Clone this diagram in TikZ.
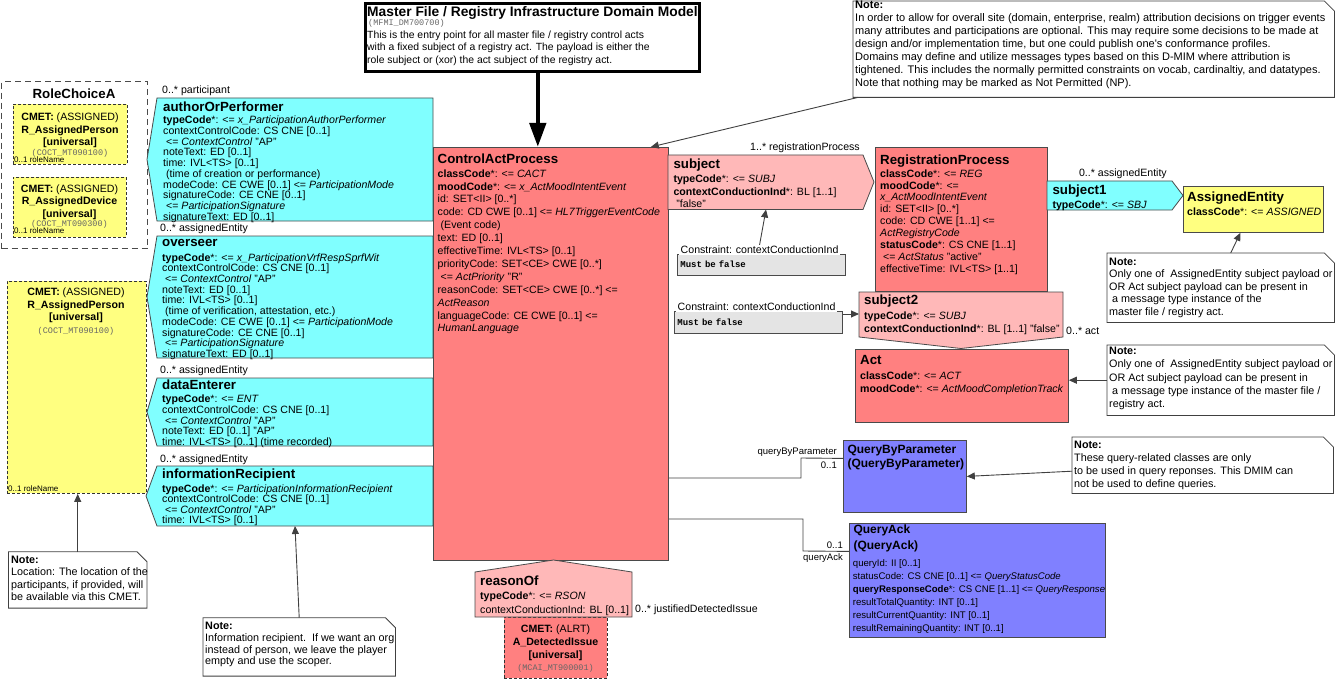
\documentclass[tikz,border=0pt]{standalone}
\usepackage{fontspec}
\setmainfont{Liberation Sans}
\setmonofont{Liberation Mono}
\usetikzlibrary{arrows.meta,positioning}
\definecolor{actred}{HTML}{FF8080}
\definecolor{actrel}{HTML}{FFB8B8}
\definecolor{partcyan}{HTML}{80FFFF}
\definecolor{roleyel}{HTML}{FFFF80}
\definecolor{infblue}{HTML}{8080FF}
\definecolor{cngray}{HTML}{E4E4E4}
\definecolor{edge}{HTML}{4A4A4A}
\newcommand{\fsz}[2]{\fontsize{#1}{#2}\selectfont}
\newcommand{\cmetid}[1]{{\ttfamily\fontsize{8.5}{9}\selectfont\color{black!60}#1}}
\newcommand{\notefold}[1]{%
  \draw[notebox] (#1.north west) -- ([xshift=-10pt]#1.north east) -- ([yshift=-10pt]#1.north east)
    -- (#1.south east) -- (#1.south west) -- cycle;}
\begin{document}
\begin{tikzpicture}[x=1pt,y=-1pt,
  every node/.style={inner sep=0pt},
  cls/.style={draw=edge,line width=0.8pt,anchor=north west},
  clsname/.style={anchor=north west,align=left,font=\fsz{13.3}{15}\bfseries},
  attr/.style={anchor=north west,align=left,font=\fsz{10.6}{12.9}},
  lbl/.style={font=\fsz{10.6}{12}},
  qlbl/.style={font=\fsz{9.5}{11}},
  partbox/.style={draw=edge,line width=0.8pt,fill=partcyan},
  relbox/.style={draw=edge,line width=0.8pt,fill=actrel},
  cmet/.style={draw=black!80,line width=0.9pt,dash pattern=on 3pt off 2pt,anchor=north west},
  cmettxt/.style={anchor=north,align=center,font=\fsz{10.6}{12.5}},
  rolename/.style={anchor=west,font=\fsz{8}{9}},
  notebox/.style={draw=black!75,line width=0.8pt,fill=white},
  notearea/.style={anchor=north west},
  notetxt/.style={anchor=north west,align=left,font=\fsz{10.8}{12.5}},
  cnbody/.style={draw=edge,line width=0.8pt,fill=cngray,anchor=north west,text width=162pt,
    inner xsep=3pt,align=left,font=\ttfamily\bfseries\fsz{9}{10}},
  cnhead/.style={anchor=west,fill=white,inner xsep=1.5pt,inner ysep=1pt,font=\fsz{10.6}{12}},
  conn/.style={draw=black!75,line width=0.9pt},
  arr/.style={conn,-{Triangle[length=8pt,width=7pt]}},
]
\useasboundingbox (0,0) rectangle (1335,679);

% master file entry point
\node[draw,line width=2.6pt,anchor=north west,minimum width=334,minimum height=68] (mf) at (364,2) {};
\node[anchor=north west,font=\fsz{13.8}{15}\bfseries] (mft) at (367,6.5) {Master File / Registry Infrastructure Domain Model};
\node[anchor=north west] (mfid) at (368,19.5) {\cmetid{(MFMI\_DM700700)}};
\node[attr,font=\fsz{10.4}{12.5}] (mfb) at (367,30.3) {This is the entry point for all master file / registry control acts\\
with a fixed subject of a registry act. The payload is either the\\
role subject or (xor) the act subject of the registry act.};

% top note
\node[notearea,minimum width=481,minimum height=96] (ntop) at (853,1) {};
\notefold{ntop}
\node[notetxt,font=\fsz{11}{13}] (ntopt) at (855,1.2) {\textbf{Note:}\\
In order to allow for overall site (domain, enterprise, realm) attribution decisions on trigger events\\
many attributes and participations are optional. This may require some decisions to be made at\\
design and/or implementation time, but one could publish one\textquotesingle s conformance profiles.\\
Domains may define and utilize messages types based on this D-MIM where attribution is\\
tightened. This includes the normally permitted constraints on vocab, cardinaltiy, and datatypes.\\
Note that nothing may be marked as Not Permitted (NP).};

% role choice
\node[draw=edge,line width=1.2pt,dash pattern=on 6pt off 4pt,anchor=north west,minimum width=146,minimum height=167] (rca) at (1,81) {};
\node[clsname,anchor=north] (rcan) at (74,88.3) {RoleChoiceA};
\node[cmet,fill=roleyel,minimum width=114,minimum height=60] (ap1) at (13,104) {};
\node[cmettxt] (ap1t) at (70,112.7) {\textbf{CMET:} (ASSIGNED)\\\textbf{R\_AssignedPerson}\\\textbf{[universal]}};
\node[anchor=north] (ap1id) at (70,149.5) {\cmetid{(COCT\_MT090100)}};
\node[rolename] (ap1r) at (14,159.8) {0..1 roleName};
\node[cmet,fill=roleyel,minimum width=113,minimum height=60] (ap2) at (13,177) {};
\node[cmettxt] (ap2t) at (69.5,184.3) {\textbf{CMET:} (ASSIGNED)\\\textbf{R\_AssignedDevice}\\\textbf{[universal]}};
\node[anchor=north] (ap2id) at (69.5,220.5) {\cmetid{(COCT\_MT090300)}};
\node[rolename] (ap2r) at (14,231) {0..1 roleName};

\node[cmet,fill=roleyel,minimum width=139,minimum height=212] (ap3) at (7,281) {};
\node[cmettxt] (ap3t) at (76,288) {\textbf{CMET:} (ASSIGNED)\\\textbf{R\_AssignedPerson}\\\textbf{[universal]}};
\node[anchor=north] (ap3id) at (76,327.5) {\cmetid{(COCT\_MT090100)}};
\node[rolename] (ap3r) at (8,488.3) {0..1 roleName};

% participations
\draw[partbox] (157,98) -- (433,98) -- (433,221) -- (157,221) -- (147,159.5) -- cycle;
\node[lbl,anchor=west] (aopl) at (162,90.7) {0..* participant};
\node[clsname] (aopn) at (163,102) {authorOrPerformer};
\node[attr,font=\fsz{10.6}{10.7}] (aopa) at (163,116) {\textbf{typeCode}*: <= \textit{x\_ParticipationAuthorPerformer}\\
contextControlCode: CS CNE [0..1]\\
\ <= \textit{ContextControl} "AP"\\
noteText: ED [0..1]\\
time: IVL<TS> [0..1]\\
\ (time of creation or performance)\\
modeCode: CE CWE [0..1] <= \textit{ParticipationMode}\\
signatureCode: CE CNE [0..1]\\
\ <= \textit{ParticipationSignature}\\
signatureText: ED [0..1]};

\draw[partbox] (157,236) -- (433,236) -- (433,358) -- (157,358) -- (147,297) -- cycle;
\node[lbl,anchor=west] (ovsl) at (160,229) {0..* assignedEntity};
\node[clsname] (ovsn) at (162,238.7) {overseer};
\node[attr,font=\fsz{10.6}{10.7}] (ovsa) at (162,253.3) {\textbf{typeCode}*: <= \textit{x\_ParticipationVrfRespSprfWit}\\
contextControlCode: CS CNE [0..1]\\
\ <= \textit{ContextControl} "AP"\\
noteText: ED [0..1]\\
time: IVL<TS> [0..1]\\
\ (time of verification, attestation, etc.)\\
modeCode: CE CWE [0..1] <= \textit{ParticipationMode}\\
signatureCode: CE CNE [0..1]\\
\ <= \textit{ParticipationSignature}\\
signatureText: ED [0..1]};

\draw[partbox] (157,378) -- (433,378) -- (433,446) -- (157,446) -- (147,412) -- cycle;
\node[lbl,anchor=west] (denl) at (160,371) {0..* assignedEntity};
\node[clsname] (denn) at (162,379.7) {dataEnterer};
\node[attr,font=\fsz{10.6}{10.75}] (dena) at (162,394.7) {\textbf{typeCode}*: <= \textit{ENT}\\
contextControlCode: CS CNE [0..1]\\
\ <= \textit{ContextControl} "AP"\\
noteText: ED [0..1] "AP"\\
time: IVL<TS> [0..1] (time recorded)};

\draw[partbox] (157,466) -- (433,466) -- (433,526) -- (157,526) -- (146,496) -- cycle;
\coordinate (inrs) at (295,526);
\node[lbl,anchor=west] (inrl) at (160,460) {0..* assignedEntity};
\node[clsname] (inrn) at (162,468.3) {informationRecipient};
\node[attr,font=\fsz{10.6}{10.5}] (inra) at (162,484.3) {\textbf{typeCode}*: <= \textit{ParticipationInformationRecipient}\\
contextControlCode: CS CNE [0..1]\\
\ <= \textit{ContextControl} "AP"\\
time: IVL<TS> [0..1]};

% control act
\node[cls,fill=actred,minimum width=235,minimum height=413] (cap) at (433,147) {};
\node[clsname] (capn) at (437.5,153.3) {ControlActProcess};
\node[attr] (capa) at (437.5,169.3) {\textbf{classCode}*: <= \textit{CACT}\\
\textbf{moodCode}*: <= \textit{x\_ActMoodIntentEvent}\\
id: SET<II> [0..*]\\
code: CD CWE [0..1] <= \textit{HL7TriggerEventCode}\\
\ (Event code)\\
text: ED [0..1]\\
effectiveTime: IVL<TS> [0..1]\\
priorityCode: SET<CE> CWE [0..*]\\
\ <= \textit{ActPriority} "R"\\
reasonCode: SET<CE> CWE [0..*] <=\\
\textit{ActReason}\\
languageCode: CE CWE [0..1] <=\\
\textit{HumanLanguage}};

\draw[line width=4.5pt,-{Triangle[length=24pt,width=16pt]}] ([xshift=5.5pt]mf.south) -- ([xshift=5.5pt]mf.south |- cap.north);
\draw[arr] ([xshift=5pt]ntop.south west) -- ([xshift=-18pt]cap.north east);

% subject / registration
\draw[relbox] (668,155) -- (863,155) -- (874,182) -- (863,209.5) -- (668,209.5) -- cycle;
\coordinate (sbjs) at (766,209.5);
\node[lbl,anchor=east] (sbjl) at (860,148) {1..* registrationProcess};
\node[clsname] (sbjn) at (673.3,158.3) {subject};
\node[attr,font=\fsz{10.6}{12.3}] (sbja) at (673.3,175) {\textbf{typeCode}*: <= \textit{SUBJ}\\
\textbf{contextConductionInd}*: BL [1..1]\\
\ "false"};

\node[cnbody,minimum height=21] (cn1) at (677,253.5) {Must be false};
\node[cnhead] (cn1h) at (679,250) {Constraint: contextConductionInd};
\draw[arr] (cn1h.north) -- (sbjs);

\node[cls,fill=actred,minimum width=172,minimum height=143] (rgp) at (875,147.5) {};
\node[clsname] (rgpn) at (880,155) {RegistrationProcess};
\node[attr,font=\fsz{10.6}{11.9}] (rgpa) at (880,169.3) {\textbf{classCode}*: <= \textit{REG}\\
\textbf{moodCode}*: <=\\
\textit{x\_ActMoodIntentEvent}\\
id: SET<II> [0..*]\\
code: CD CWE [1..1] <=\\
\textit{ActRegistryCode}\\
\textbf{statusCode}*: CS CNE [1..1]\\
\ <= \textit{ActStatus} "active"\\
effectiveTime: IVL<TS> [1..1]};

\draw[partbox] (1047,181) -- (1172,181) -- (1183,195.5) -- (1172,210) -- (1047,210) -- cycle;
\node[lbl,anchor=east] (sb1l) at (1167,173.3) {0..* assignedEntity};
\node[clsname] (sb1n) at (1052.3,185) {subject1};
\node[attr] (sb1a) at (1052.3,201) {\textbf{typeCode}*: <= \textit{SBJ}};

\node[cls,fill=roleyel,minimum width=140,minimum height=46] (aen) at (1183,186) {};
\node[clsname] (aenn) at (1187,192) {AssignedEntity};
\node[attr] (aena) at (1187,208) {\textbf{classCode}*: <= \textit{ASSIGNED}};

\node[notearea,minimum width=227,minimum height=69] (nae) at (1107,253) {};
\notefold{nae}
\node[notetxt] (naet) at (1109,257.5) {\textbf{Note:}\\
Only one of\ \ AssignedEntity subject payload or\\
OR Act subject payload can be present in\\
\ a message type instance of the\\
master file / registry act.};
\draw[arr] ([xshift=10pt]nae.north) -- ([xshift=-13pt]aen.south);

\draw[relbox] (859,292) -- (1063,292) -- (1063,337) -- (961,348.5) -- (859,337) -- cycle;
\coordinate (sb2w) at (859,314);
\node[clsname] (sb2n) at (864,295) {subject2};
\node[attr,font=\fsz{10.6}{12.3}] (sb2a) at (864,312) {\textbf{typeCode}*: <= \textit{SUBJ}\\
\textbf{contextConductionInd}*: BL [1..1] "false"};
\node[lbl,anchor=west] (sb2l) at (1066,330.7) {0..* act};

\node[cnbody,minimum height=22] (cn2) at (674,311) {Must be false};
\node[cnhead] (cn2h) at (676,306.7) {Constraint: contextConductionInd};
\draw[arr] ([yshift=-3pt]cn2.north east) -- ([yshift=-3pt]cn2.north east -| sb2w);

\node[cls,fill=actred,minimum width=213,minimum height=72.5] (act) at (855,349) {};
\node[clsname] (actn) at (860,355) {Act};
\node[attr,font=\fsz{10.6}{13.3}] (acta) at (860,371.7) {\textbf{classCode}*: <= \textit{ACT}\\
\textbf{moodCode}*: <= \textit{ActMoodCompletionTrack}};

\node[notearea,minimum width=227,minimum height=70] (nact) at (1107,345) {};
\notefold{nact}
\node[notetxt,font=\fsz{10.8}{13.2}] (nactt) at (1109,347) {\textbf{Note:}\\
Only one of\ \ AssignedEntity subject payload or\\
OR Act subject payload can be present in\\
\ a message type instance of the master file /\\
registry act.};
\draw[arr] (nact.west) -- (nact.west -| act.east);

% query classes
\node[cls,fill=infblue,minimum width=123,minimum height=72] (qbp) at (843,440) {};
\node[clsname,font=\fsz{12}{14.3}\bfseries] (qbpn) at (847.3,444.5) {QueryByParameter\\(QueryByParameter)};
\draw[conn] (cap.east |- 0,478) -| (801,458) -- ([yshift=18pt]qbp.west);
\node[qlbl,anchor=east] (qbpl) at (837,452.7) {queryByParameter};
\node[qlbl,anchor=east] (qbpm) at (837,465) {0..1};

\node[cls,fill=infblue,minimum width=256,minimum height=114] (qak) at (849,523) {};
\node[clsname,font=\fsz{12}{15.7}\bfseries] (qakn) at (853.3,524.8) {QueryAck\\(QueryAck)};
\node[attr,font=\fsz{9.6}{13}] (qaka) at (852.7,559.7) {queryId: II [0..1]\\
statusCode: CS CNE [0..1] <= \textit{QueryStatusCode}\\
\textbf{queryResponseCode}*: CS CNE [1..1] <= \textit{QueryResponse}\\
resultTotalQuantity: INT [0..1]\\
resultCurrentQuantity: INT [0..1]\\
resultRemainingQuantity: INT [0..1]};
\draw[conn] (cap.east |- 0,519) -| (803,551) -- ([yshift=29pt]qak.west);
\node[qlbl,anchor=east] (qakm) at (843,545) {0..1};
\node[qlbl,anchor=east] (qakl) at (843,558.3) {queryAck};

\node[notearea,minimum width=261,minimum height=56] (nqr) at (1072,437) {};
\notefold{nqr}
\node[notetxt,font=\fsz{10.8}{12.8}] (nqrt) at (1074,441) {\textbf{Note:}\\
These query-related classes are only\\
to be used in query reponses. This DMIM can\\
not be used to define queries.};
\draw[arr] ([yshift=-6pt]nqr.west) -- (qbp.east);

% reason
\node[cmet,fill=actred,minimum width=103,minimum height=61] (dti) at (504,617) {};
\node[cmettxt,font=\fsz{10.6}{13.3}] (dtit) at (555.5,624.3) {\textbf{CMET:} (ALRT)\\\textbf{A\_DetectedIssue}\\\textbf{[universal]}};
\node[anchor=north] (dtiid) at (555.5,664) {\cmetid{(MCAI\_MT900001)}};
\draw[relbox] (475,617) -- (475,572) -- (553.5,560) -- (632,572) -- (632,617) -- cycle;
\node[clsname] (rsnn) at (480,575.7) {reasonOf};
\node[attr,font=\fsz{10.6}{14.3}] (rsna) at (480,591.7) {\textbf{typeCode}*: <= \textit{RSON}\\
contextConductionInd: BL [0..1]};
\node[lbl,anchor=west] (rsnl) at (635,610) {0..* justifiedDetectedIssue};

% left notes
\node[notearea,minimum width=138,minimum height=56] (nloc) at (8.5,551.7) {};
\notefold{nloc}
\node[notetxt,font=\fsz{10.8}{12.3}] (nloct) at (11,555.8) {\textbf{Note:}\\
Location: The location of the\\
participants, if provided, will\\
be available via this CMET.};
\draw[arr] (nloc.north) -- (nloc.north |- ap3.south);

\node[notearea,minimum width=192,minimum height=58] (ninf) at (203,617.7) {};
\notefold{ninf}
\node[notetxt,font=\fsz{10.8}{11.8}] (ninft) at (205,621.8) {\textbf{Note:}\\
Information recipient.\ \ If we want an org\\
instead of person, we leave the player\\
empty and use the scoper.};
\draw[arr] (ninf.north) -- (inrs);
\end{tikzpicture}
\end{document}
